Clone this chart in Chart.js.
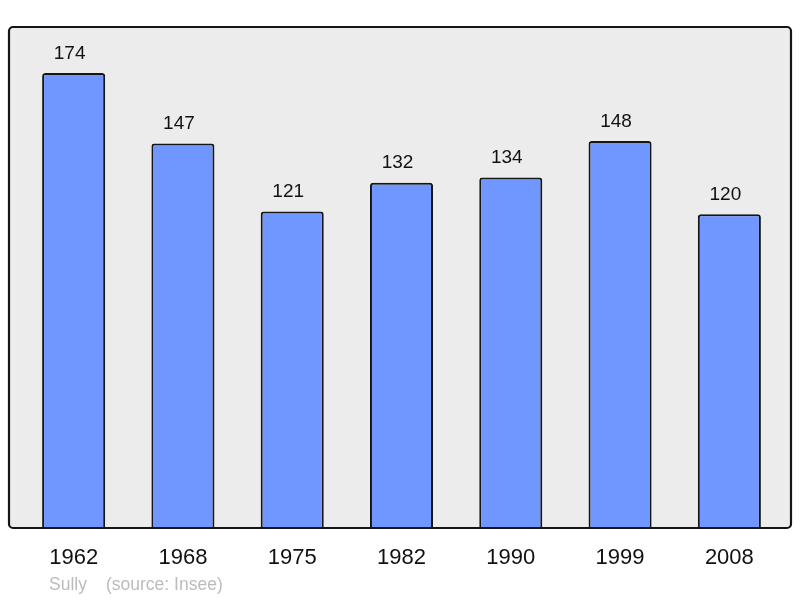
<!DOCTYPE html>
<html>
<head>
<meta charset="utf-8">
<script src="https://cdn.jsdelivr.net/npm/chart.js@4"></script>
<style>
  html, body { margin: 0; padding: 0; background: #fff; }
  #wrap { width: 800px; height: 598px; }
</style>
</head>
<body>
<div id="wrap"><canvas id="pop"></canvas></div>
<script>
const years = ['1962', '1968', '1975', '1982', '1990', '1999', '2008'];
const population = [174, 147, 121, 132, 134, 148, 120];
const commune = 'Sully';
const source = '(source: Insee)';

const FONT = "'Liberation Sans', Arial, sans-serif";

// Frame behind the bars, value labels above, year labels below.
const decor = {
  id: 'decor',
  beforeDatasetsDraw(chart) {
    const { ctx, chartArea: { top, bottom } } = chart;
    ctx.save();
    ctx.beginPath();
    ctx.roundRect(9, top, 782, bottom - top, 4);
    ctx.fillStyle = '#ececec';
    ctx.fill();
    ctx.restore();
  },
  afterDatasetsDraw(chart) {
    const { ctx, chartArea: { top, bottom }, scales: { x, y } } = chart;
    ctx.save();
    ctx.beginPath();
    ctx.roundRect(9, top, 782, bottom - top, 4);
    ctx.lineWidth = 2.2;
    ctx.strokeStyle = '#151515';
    ctx.stroke();

    ctx.fillStyle = '#111';
    ctx.textAlign = 'center';
    ctx.textBaseline = 'alphabetic';
    ctx.font = '19px ' + FONT;
    population.forEach((v, i) => {
      ctx.fillText(String(v), x.getPixelForValue(i) - 4, y.getPixelForValue(v) - 14.5);
    });
    ctx.font = '22px ' + FONT;
    years.forEach((yr, i) => {
      ctx.fillText(yr, x.getPixelForValue(i), bottom + 36);
    });
    ctx.font = '17.5px ' + FONT;
    ctx.fillStyle = '#bcbcbc';
    ctx.textAlign = 'left';
    ctx.fillText(commune, 49, 590);
    ctx.fillText(source, 106, 590);
    ctx.restore();
  },
};

new Chart(document.getElementById('pop'), {
  type: 'bar',
  data: {
    labels: years,
    datasets: [{
      data: population,
      backgroundColor: '#7096ff',
      borderColor: '#151515',
      borderWidth: 2,
      borderSkipped: 'bottom',
      borderRadius: 3,
      barPercentage: 0.577,
      categoryPercentage: 1,
    }],
  },
  options: {
    responsive: true, maintainAspectRatio: false, animation: false,
    layout: { padding: { left: 19, right: 16, top: 27, bottom: 70 } },
    plugins: { legend: { display: false }, tooltip: { enabled: false } },
    scales: {
      x: { display: false },
      y: { display: false, min: 0, max: 191.6 },
    },
  },
  plugins: [decor],
});
</script>
</body>
</html>
